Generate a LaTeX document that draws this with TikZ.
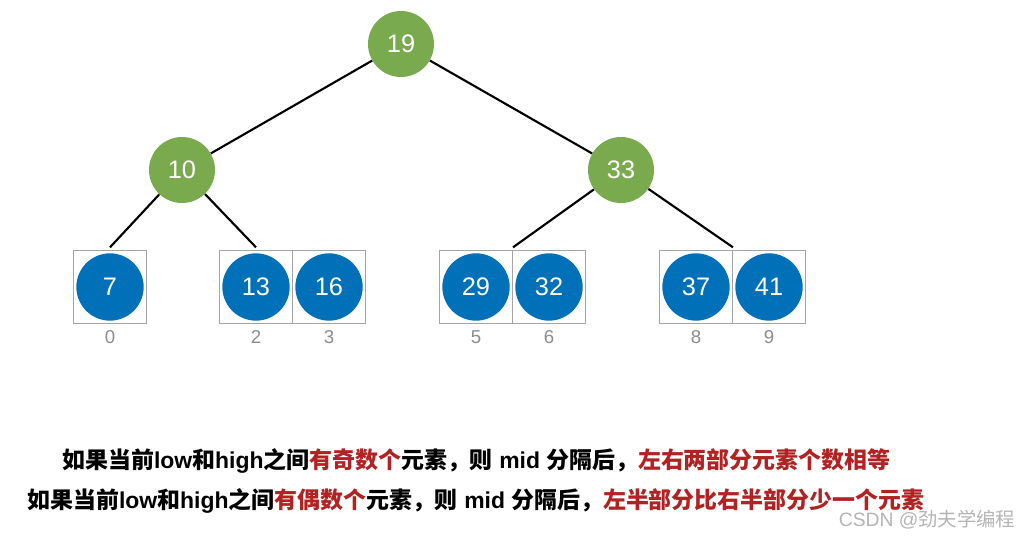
\documentclass[tikz,border=0pt]{standalone}
\usepackage{fontspec}
\setmainfont{Liberation Sans}
\newfontfamily\cjk{Noto Sans CJK SC}
\newcommand\zh[1]{{\cjk #1}}
\definecolor{treegreen}{RGB}{122,170,78}
\definecolor{leafblue}{RGB}{0,113,185}
\definecolor{hired}{RGB}{178,34,34}
\definecolor{cellgray}{RGB}{165,165,165}
\definecolor{idxgray}{RGB}{140,140,140}
\definecolor{markgray}{RGB}{180,180,180}
\begin{document}
\begin{tikzpicture}[x=0.75pt, y=-0.75pt,
    inner/.style={circle, fill=treegreen, minimum size=49.5pt, inner sep=0pt, text=white, font=\fontsize{19}{19}\selectfont},
    leaf/.style={circle, fill=leafblue, minimum size=50.5pt, inner sep=0pt, text=white, font=\fontsize{19}{19}\selectfont},
    cell/.style={draw=cellgray, line width=0.75pt, minimum size=54.75pt, inner sep=0pt},
    idx/.style={anchor=base, text=idxgray, font=\fontsize{14}{14}\selectfont},
    link/.style={line width=1.6pt},
    remark/.style={anchor=base west, inner sep=0pt, font=\fontsize{17.2}{17.2}\selectfont\bfseries}]
  \useasboundingbox (0,0) rectangle (1036,538);
  % array cells with the leaves
  \foreach \i/\x/\v in {0/110/7, 2/256/13, 3/329/16, 5/476/29, 6/549/32, 8/696/37, 9/769/41} {
    \node[cell] (c\i) at (\x,287) {};
    \node[leaf] (n\i) at (\x,287) {\v};
    \node[idx] (i\i) at (\x,344) {\i};
  }
  % upper levels
  \node[inner] (root) at (401,44) {19};
  \node[inner] (left) at (182,170) {10};
  \node[inner] (right) at (621,170) {33};
  \draw[link] (root) -- (left);
  \draw[link] (root) -- (right);
  \draw[link] (left) -- ([yshift=2pt]c0.north);
  \draw[link] (left) -- ([yshift=2pt]c2.north);
  \draw[link] (right) -- ([yshift=2pt]c5.north east);
  \draw[link] (right) -- ([yshift=2pt]c8.north east);
  % remarks
  \node[remark] (odd) at (62,469) {\zh{如果当前}low\zh{和}high\zh{之间}\textcolor{hired}{\zh{有奇数个}}\zh{元素，则} mid \zh{分隔后，}\textcolor{hired}{\zh{左右两部分元素个数相等}}};
  \node[remark] (even) at (27,508) {\zh{如果当前}low\zh{和}high\zh{之间}\textcolor{hired}{\zh{有偶数个}}\zh{元素，则} mid \zh{分隔后，}\textcolor{hired}{\zh{左半部分比右半部分少一个元素}}};
  \node[anchor=east, text=markgray, font=\fontsize{14.5}{14.5}\selectfont] (mark) at (1020,520) {CSDN @\zh{劲夫学编程}};
\end{tikzpicture}
\end{document}
